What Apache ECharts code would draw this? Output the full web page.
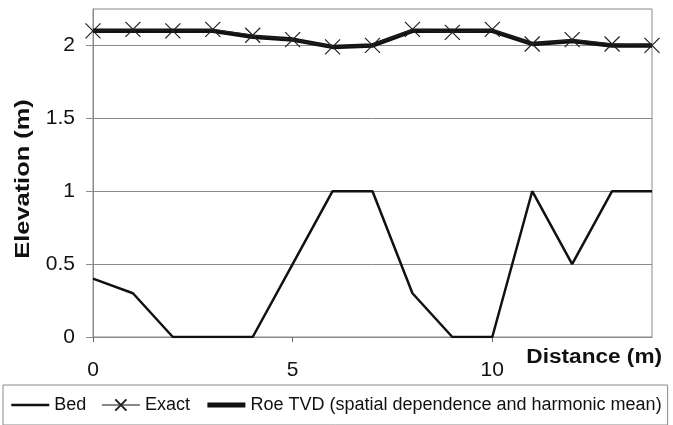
<!DOCTYPE html>
<html><head><meta charset="utf-8">
<script src="https://cdn.jsdelivr.net/npm/echarts@6/dist/echarts.min.js"></script>
<style>html,body{margin:0;padding:0;background:#fff}#c{width:673px;height:425px}</style>
</head><body><div id="c"></div>
<script>
const distance = [0,1,2,3,4,5,6,7,8,9,10,11,12,13,14];
const bed   = [0.4,0.3,0,0,0,0.5,1,1,0.3,0,0,1,0.5,1,1];
const exact = [2.10,2.11,2.10,2.11,2.07,2.04,1.99,2.00,2.11,2.09,2.11,2.01,2.04,2.01,2.00];
const roe   = [2.10,2.10,2.10,2.10,2.06,2.04,1.99,2.00,2.10,2.10,2.10,2.01,2.03,2.00,2.00];
const xTicks = [0,5,10];
const yTicks = [0,0.5,1,1.5,2];
const seriesNames = ['Bed','Exact','Roe TVD (spatial dependence and harmonic mean)'];
const xTitle = 'Distance (m)';
const yTitle = 'Elevation (m)';

const pair = (ys) => distance.map((x,i)=>[x, ys[i]]);
const chart = echarts.init(document.getElementById('c'));
const font = 'Liberation Sans, Arial, sans-serif';
const hidden = {color:'rgba(0,0,0,0)',borderWidth:0,opacity:0};
chart.setOption({
  animation:false,
  textStyle:{fontFamily:font},
  grid:{left:93,right:21,top:9,bottom:88,show:true,borderColor:'#8a8a8a',borderWidth:1},
  xAxis:{type:'value',min:0,max:14,interval:5,
    axisLine:{show:true,lineStyle:{color:'#8a8a8a'}},
    axisTick:{show:true,length:5,inside:false,customValues:xTicks,lineStyle:{color:'#666'}},
    axisLabel:{customValues:xTicks,fontSize:21,color:'#111',margin:23,fontFamily:font},
    splitLine:{show:false}},
  yAxis:{type:'value',min:0,max:2.25,interval:0.5,
    axisLine:{show:true,lineStyle:{color:'#8a8a8a'}},
    axisTick:{show:true,length:7,customValues:yTicks,lineStyle:{color:'#8a8a8a'}},
    axisLabel:{customValues:yTicks,fontSize:21,color:'#111',margin:18,fontFamily:font},
    splitLine:{show:true,lineStyle:{color:'#8a8a8a',width:1}}},
  legend:{left:3,top:385,width:667,height:38,itemWidth:38,itemHeight:14,itemGap:15,
    borderColor:'#8a8a8a',borderWidth:1,padding:[11,6,11,7],
    textStyle:{fontSize:18,color:'#111',fontFamily:font},
    data:[{name:seriesNames[0],itemStyle:hidden,lineStyle:{width:2.5,color:'#111'}},
          {name:seriesNames[1],lineStyle:{width:1.2,color:'#111'}},
          {name:seriesNames[2],itemStyle:hidden,lineStyle:{width:5,color:'#111'}}]},
  graphic:[
    {type:'text',x:662,y:357,scaleX:1.13,
      style:{text:xTitle,font:'bold 20px '+font,fill:'#111',align:'right',verticalAlign:'middle'}},
    {type:'text',x:23,y:179,rotation:Math.PI/2,scaleX:1.27,
      style:{text:yTitle,font:'bold 20px '+font,fill:'#111',align:'center',verticalAlign:'middle'}}
  ],
  series:[
    {name:seriesNames[0],type:'line',data:pair(bed),symbol:'none',
      lineStyle:{color:'#111',width:2.5},itemStyle:{color:'#111'},z:3},
    {name:seriesNames[2],type:'line',data:pair(roe),symbol:'none',
      lineStyle:{color:'#111',width:4.5},itemStyle:{color:'#111'},z:3},
    {name:seriesNames[1],type:'line',data:pair(exact),
      symbol:'path://M0,0L10,10M10,0L0,10',symbolSize:15,
      lineStyle:{color:'#222',width:1},
      itemStyle:{color:'#222',borderColor:'#222',borderWidth:1.2},z:4}
  ]
});
</script></body></html>
